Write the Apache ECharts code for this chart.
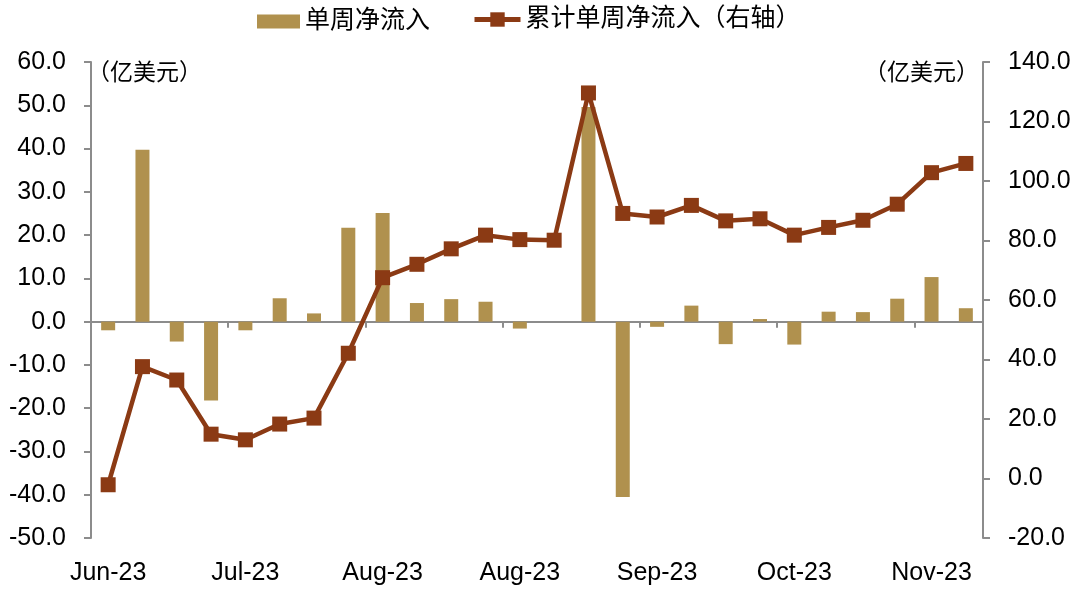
<!DOCTYPE html>
<html>
<head>
<meta charset="utf-8">
<script src="https://cdn.jsdelivr.net/npm/echarts@6/dist/echarts.min.js"></script>
<style>
html,body{margin:0;padding:0;background:#fff;}
#chart{width:1080px;height:596px;}
</style>
</head>
<body>
<div id="chart"></div>
<script>
// Weekly categories (estimated week dates)
var categories = ['2023-06-02','2023-06-09','2023-06-16','2023-06-23','2023-06-30','2023-07-07','2023-07-14','2023-07-21','2023-07-28','2023-08-04','2023-08-11','2023-08-18','2023-08-25','2023-09-01','2023-09-08','2023-09-15','2023-09-22','2023-09-29','2023-10-06','2023-10-13','2023-10-20','2023-10-27','2023-11-03','2023-11-10','2023-11-17','2023-11-24'];
// Tick labels shown on every 4th category
var tickLabels = ['Jun-23','Jul-23','Aug-23','Aug-23','Sep-23','Oct-23','Nov-23'];
// 单周净流入 (亿美元, left axis)
var weeklyFlow = [-2.0, 39.7, -4.6, -18.2, -2.0, 5.4, 1.9, 21.7, 25.1, 4.3, 5.2, 4.6, -1.6, 0.0, 49.6, -40.5, -1.2, 3.7, -5.2, 0.6, -5.3, 2.3, 2.2, 5.3, 10.3, 3.1];
// 累计单周净流入 (亿美元, right axis)
var cumulativeFlow = [-2.1, 37.6, 33.1, 14.9, 13.0, 18.3, 20.3, 42.1, 67.5, 72.0, 77.2, 81.8, 80.3, 80.1, 129.6, 89.1, 87.9, 91.8, 86.6, 87.3, 81.8, 84.4, 86.8, 92.2, 102.8, 105.9];
var leftTicks = {min: -50, max: 60, interval: 10};
var rightTicks = {min: -20, max: 140, interval: 20};

var FONT = '"Liberation Sans", Arial, "Noto Sans CJK SC", sans-serif';
var axisGray = '#8c8c8c';
var barColor = '#B0914E';
var lineColor = '#8B3A14';

var chart = echarts.init(document.getElementById('chart'), null, {renderer: 'canvas'});
chart.setOption({
  animation: false,
  backgroundColor: '#ffffff',
  textStyle: {fontFamily: FONT},
  grid: {left: 91, right: 97, top: 62, bottom: 58, containLabel: false},
  legend: [{
    left: 252, top: 4,
    itemWidth: 43, itemHeight: 14,
    textStyle: {fontSize: 25, color: '#000', fontFamily: FONT},
    data: [{name: '单周净流入', icon: 'rect'}]
  }, {
    left: 467, top: 2,
    itemWidth: 46, itemHeight: 18,
    textStyle: {fontSize: 25, color: '#000', fontFamily: FONT},
    data: [{name: '累计单周净流入（右轴）', lineStyle: {width: 5}}]
  }],
  xAxis: [{
    type: 'category',
    data: categories,
    boundaryGap: true,
    axisLine: {show: true, onZero: true, onZeroAxisIndex: 0, lineStyle: {color: axisGray, width: 2}},
    axisTick: {show: true, interval: 3, length: 6, lineStyle: {color: axisGray, width: 2}},
    axisLabel: {show: false},
    splitLine: {show: false}
  }, {
    type: 'category',
    data: categories,
    position: 'bottom',
    boundaryGap: true,
    axisLine: {show: false, onZero: false},
    axisTick: {show: false},
    axisLabel: {
      show: true, interval: 3, margin: 23,
      fontSize: 25, color: '#000', fontFamily: FONT,
      formatter: function (v, i) { return tickLabels[Math.round(i / 4)]; }
    },
    splitLine: {show: false}
  }],
  yAxis: [{
    type: 'value',
    position: 'left',
    min: leftTicks.min, max: leftTicks.max, interval: leftTicks.interval,
    axisLine: {show: true, lineStyle: {color: axisGray, width: 2}},
    axisTick: {show: true, length: 7, lineStyle: {color: axisGray, width: 2}},
    axisLabel: {fontSize: 25, color: '#000', margin: 25, fontFamily: FONT,
      formatter: function (v) { return v.toFixed(1); }},
    splitLine: {show: false}
  }, {
    type: 'value',
    position: 'right',
    min: rightTicks.min, max: rightTicks.max, interval: rightTicks.interval,
    axisLine: {show: true, lineStyle: {color: axisGray, width: 2}},
    axisTick: {show: true, length: 7, lineStyle: {color: axisGray, width: 2}},
    axisLabel: {fontSize: 25, color: '#000', margin: 25, fontFamily: FONT,
      formatter: function (v) { return v.toFixed(1); }},
    splitLine: {show: false}
  }],
  graphic: [{
    type: 'text', left: 87, top: 60,
    style: {text: '（亿美元）', fill: '#000', font: '23px "Noto Sans CJK SC", sans-serif'}
  }, {
    type: 'text', right: 101, top: 60,
    style: {text: '（亿美元）', fill: '#000', font: '23px "Noto Sans CJK SC", sans-serif'}
  }],
  series: [{
    name: '单周净流入',
    type: 'bar',
    xAxisIndex: 0, yAxisIndex: 0,
    data: weeklyFlow,
    barWidth: 14,
    itemStyle: {color: barColor},
    z: 2
  }, {
    name: '累计单周净流入（右轴）',
    type: 'line',
    xAxisIndex: 0, yAxisIndex: 1,
    data: cumulativeFlow,
    symbol: 'rect',
    symbolSize: 15,
    lineStyle: {color: lineColor, width: 4.5},
    itemStyle: {color: lineColor},
    z: 3
  }]
});
</script>
</body>
</html>
